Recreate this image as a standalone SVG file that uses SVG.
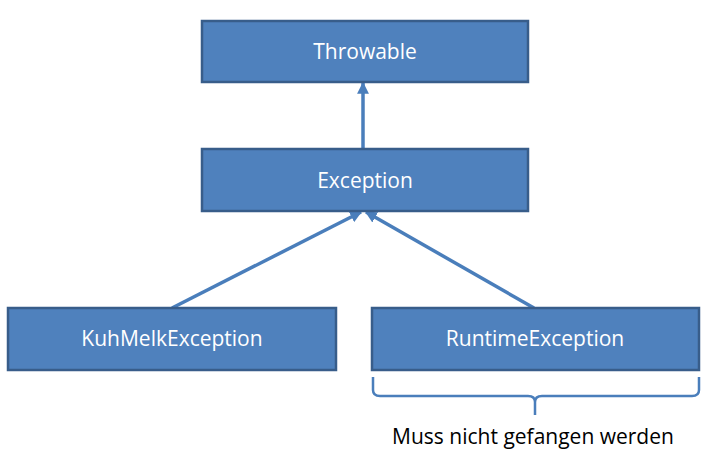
<svg xmlns="http://www.w3.org/2000/svg" width="707" height="457" viewBox="0 0 707 457">
<style>
.box{fill:#4F81BD;stroke:#385D8A;stroke-width:2.5}
.lbl{fill:#FFFFFF;font-family:"Open Sans","DejaVu Sans",sans-serif;font-size:21px;text-anchor:middle}
.con{stroke:#4A7EBB;stroke-width:3.5;fill:none;marker-end:url(#ah)}
</style>
<defs>
<marker id="ah" viewBox="0 0 10 10" refX="9" refY="5" markerWidth="3.4" markerHeight="3.4" orient="auto" markerUnits="strokeWidth">
<path d="M0,0 L10,5 L0,10 Z" fill="#4A7EBB"/>
</marker>
</defs>
<rect width="707" height="457" fill="#FFFFFF"/>
<g id="connectors">
<line class="con" x1="363" y1="149" x2="363" y2="83"/>
<line class="con" x1="172" y1="308" x2="361" y2="212"/>
<line class="con" x1="534" y1="308" x2="366" y2="212"/>
</g>
<g id="throwable">
<rect class="box" x="202" y="21" width="326" height="61"/>
<text class="lbl" x="365" y="59">Throwable</text>
</g>
<g id="exception">
<rect class="box" x="202" y="149" width="326" height="62"/>
<text class="lbl" x="365" y="188">Exception</text>
</g>
<g id="kuhmelk">
<rect class="box" x="8" y="308" width="328" height="62"/>
<text class="lbl" x="172" y="346">KuhMelkException</text>
</g>
<g id="runtime">
<rect class="box" x="372" y="308" width="327" height="62"/>
<text class="lbl" x="535" y="346">RuntimeException</text>
</g>
<g id="brace">
<path d="M373,377 L373,390 Q373,396 380,396 L528,396 Q535,396 535,402 L535,415 M535,402 Q535,396 542,396 L692,396 Q699,396 699,390 L699,377" stroke="#4A7EBB" stroke-width="2.5" fill="none"/>
<text x="533" y="444" font-family="'Open Sans','DejaVu Sans',sans-serif" font-size="21px" text-anchor="middle" fill="#000000">Muss nicht gefangen werden</text>
</g>
</svg>
